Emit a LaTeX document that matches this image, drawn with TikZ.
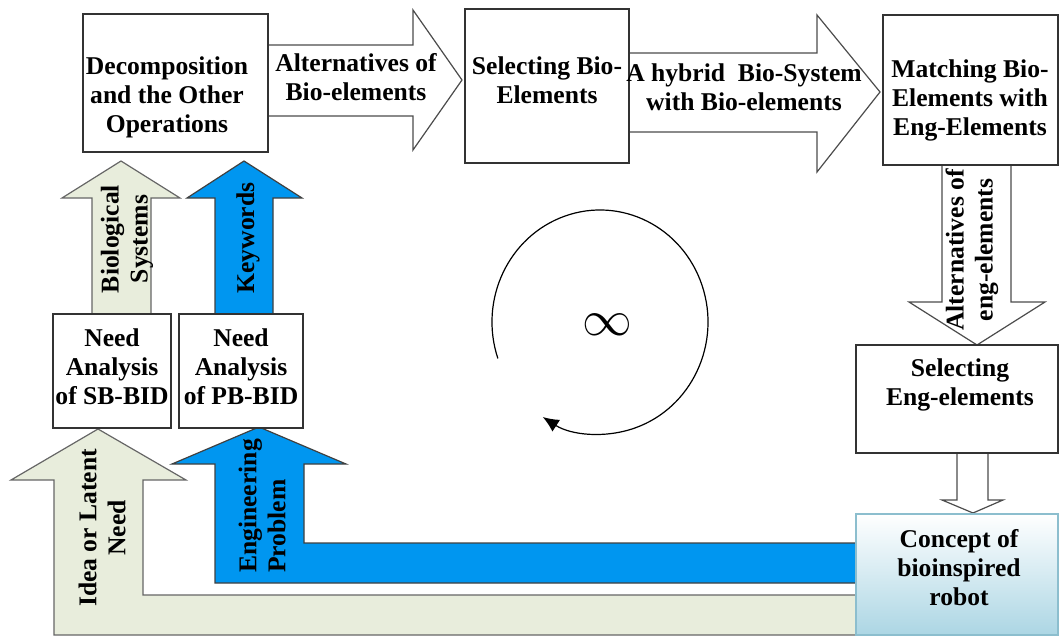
\documentclass[tikz,border=0pt]{standalone}
\usepackage{fontspec}
\setmainfont{Liberation Serif}
\usetikzlibrary{arrows.meta,fit}
\definecolor{beige}{RGB}{232,237,220}
\definecolor{azure}{RGB}{0,150,240}
\definecolor{conceptblue}{RGB}{172,214,228}
\definecolor{conceptedge}{RGB}{140,190,206}
\tikzset{
	box/.style={draw=black!80, fill=white, line width=0.6pt, inner sep=0pt},
	txt/.style={font=\fontsize{12.8}{14.5}\selectfont\bfseries, align=center, inner sep=0pt},
	whitearrow/.style={draw=black!70, fill=white, line width=0.6pt},
	beigearrow/.style={draw=black!60, fill=beige, line width=0.6pt},
	bluearrow/.style={draw=black!75, fill=azure, line width=0.6pt}
}
\begin{document}
\begin{tikzpicture}[x=0.5pt,y=-0.5pt]
	\useasboundingbox (0,0) rectangle (1061,637);

	% block arrows along the top
	\draw[whitearrow] (268,45) -- (413,45) -- (413,10) -- (462,80) -- (413,150) -- (413,116) -- (268,116) -- cycle;
	\draw[whitearrow] (629,53) -- (817,53) -- (817,15) -- (880,92) -- (817,172) -- (817,132) -- (629,132) -- cycle;

	% block arrows on the right
	\draw[whitearrow] (942,163) -- (942,302) -- (909,302) -- (977,345) -- (1045,302) -- (1011,302) -- (1011,163) -- cycle;
	\draw[whitearrow] (957,453) -- (957,500) -- (942,500) -- (973,513) -- (1003,500) -- (988,500) -- (988,453) -- cycle;

	% block arrows on the left
	\draw[beigearrow] (92,314) -- (92,198) -- (62,198) -- (121,161) -- (180,198) -- (151,198) -- (151,314) -- cycle;
	\draw[bluearrow] (215,314) -- (215,198) -- (187,198) -- (244,161) -- (302,198) -- (273,198) -- (273,314) -- cycle;

	% feedback from the concept
	\draw[beigearrow] (856,635) -- (54,635) -- (54,480) -- (11,480) -- (98,429) -- (186,480) -- (143,480) -- (143,595) -- (856,595) -- cycle;
	\draw[bluearrow] (856,583) -- (215,583) -- (215,464) -- (172,464) -- (259,427) -- (346,464) -- (304,464) -- (304,543) -- (856,543) -- cycle;

	% boxes
	\node[box, fit={(83,14) (268,152)}] (decomp) {};
	\node[box, fit={(465,9) (629,163)}] (selbio) {};
	\node[box, fit={(883,15) (1058,165)}] (match) {};
	\node[box, fit={(856,345) (1058,453)}] (seleng) {};
	\node[box, fit={(53,314) (171,428)}] (needsb) {};
	\node[box, fit={(179,314) (303,428)}] (needpb) {};
	\node[box, draw=conceptedge, top color=white, bottom color=conceptblue, fit={(856,514) (1058,635)}] (concept) {};

	% box texts
	\node[txt] (decompTxt) at (167,97) {Decomposition\\and the Other\\Operations};
	\node[txt] (selbioTxt) at (547,80) {Selecting Bio-\\Elements};
	\node[txt] (matchTxt) at (970,100) {Matching Bio-\\Elements with\\Eng-Elements};
	\node[txt] (selengTxt) at (960,385) {Selecting\\Eng-elements};
	\node[txt] (needsbTxt) at (112,367) {Need\\Analysis\\of SB-BID};
	\node[txt] (needpbTxt) at (241,367) {Need\\Analysis\\of PB-BID};
	\node[txt] (conceptTxt) at (959,568) {Concept of\\bioinspired\\robot};

	% arrow texts
	\node[txt] (altbio) at (356,77) {Alternatives of\\Bio-elements};
	\node[txt] (hybrid) at (744,87) {A hybrid\ \ Bio-System\\with Bio-elements};
	\node[txt, rotate=90] (alteng) at (972,250) {Alternatives of\\eng-elements};
	\node[txt, rotate=90] (biosys) at (127,239) {Biological\\Systems};
	\node[txt, rotate=90] (keyw) at (248,238) {Keywords};
	\node[txt, rotate=90] (idea) at (102,528) {Idea or Latent\\Need};
	\node[txt, rotate=90, align=left] (engprob) at (262,506) {Engineering\\Problem};

	% endless loop
	\coordinate (loop) at (600,322);
	\draw[line width=0.6pt, -{Latex[length=8pt,width=7pt]}] ([shift={(161:108 and 112)}]loop) arc[start angle=161, end angle=482, x radius=108, y radius=112];
	\node (inf) at (607,325) {\fontsize{28}{28}\selectfont$\infty$};
\end{tikzpicture}
\end{document}
